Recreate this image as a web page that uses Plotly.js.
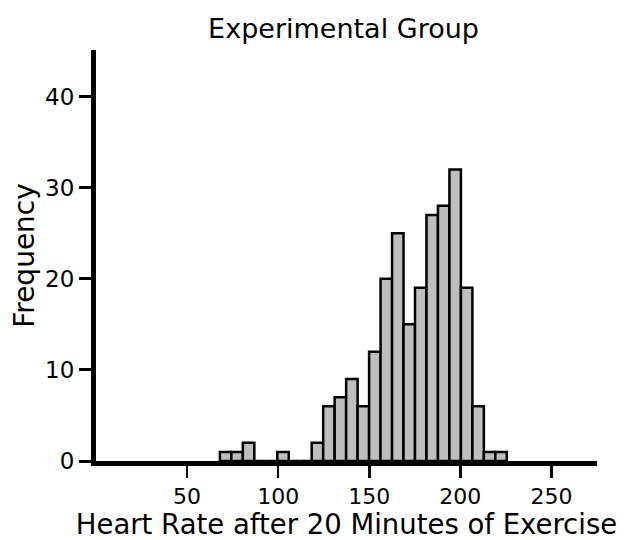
<!DOCTYPE html>
<html>
<head>
<meta charset="utf-8">
<script src="https://cdn.plot.ly/plotly-3.0.1.min.js"></script>
<style>html,body{margin:0;padding:0;background:#fff;}#chart{width:628px;height:540px;}</style>
</head>
<body>
<div id="chart"></div>
<script>
// Histogram bins (left edge of first bin, bin width) and counts per bin
const binStart = 68;
const binWidth = 6.3;
const counts = [1, 1, 2, 0, 0, 1, 0, 0, 2, 6, 7, 9, 6, 12, 20, 25, 15, 19, 27, 28, 32, 19, 6, 1, 1];
const xTicks = [50, 100, 150, 200, 250];
const yTicks = [0, 10, 20, 30, 40];
const chartTitle = "Experimental Group";
const xLabel = "Heart Rate after 20 Minutes of Exercise";
const yLabel = "Frequency";

const centers = counts.map((c, i) => binStart + binWidth * (i + 0.5));
const FONT = "DejaVu Sans, Verdana, sans-serif";

const trace = {
  type: "bar",
  x: centers,
  y: counts,
  width: binWidth,
  marker: {color: "#bebebe", line: {color: "#000000", width: 2.5}},
  hoverinfo: "x+y"
};

const layout = {
  width: 628, height: 540,
  margin: {l: 96, r: 31, t: 50, b: 79},
  paper_bgcolor: "#ffffff", plot_bgcolor: "#ffffff",
  showlegend: false,
  bargap: 0,
  font: {family: FONT, color: "#000000", size: 22},
  title: {text: chartTitle, font: {family: FONT, size: 27, color: "#000"}, x: 0.547, xanchor: "center", y: 0.965, yanchor: "top"},
  xaxis: {
    range: [0, 275],
    tickvals: xTicks, ticktext: xTicks.map(String),
    showgrid: false, zeroline: false,
    showline: true, linewidth: 5, linecolor: "#000",
    ticks: "outside", ticklen: 12, tickwidth: 2.5, tickcolor: "#000",
    tickfont: {family: FONT, size: 22},
    title: {text: xLabel, font: {family: FONT, size: 27.5}, standoff: 0}
  },
  yaxis: {
    range: [0, 45.1],
    tickvals: yTicks, ticktext: yTicks.map(String),
    showgrid: false, zeroline: false,
    showline: true, linewidth: 5, linecolor: "#000",
    ticks: "outside", ticklen: 12, tickwidth: 3, tickcolor: "#000",
    tickfont: {family: FONT, size: 23},
    title: {text: yLabel, font: {family: FONT, size: 28}, standoff: 4}
  }
};

Plotly.newPlot("chart", [trace], layout, {displayModeBar: false, staticPlot: true});
</script>
</body>
</html>
